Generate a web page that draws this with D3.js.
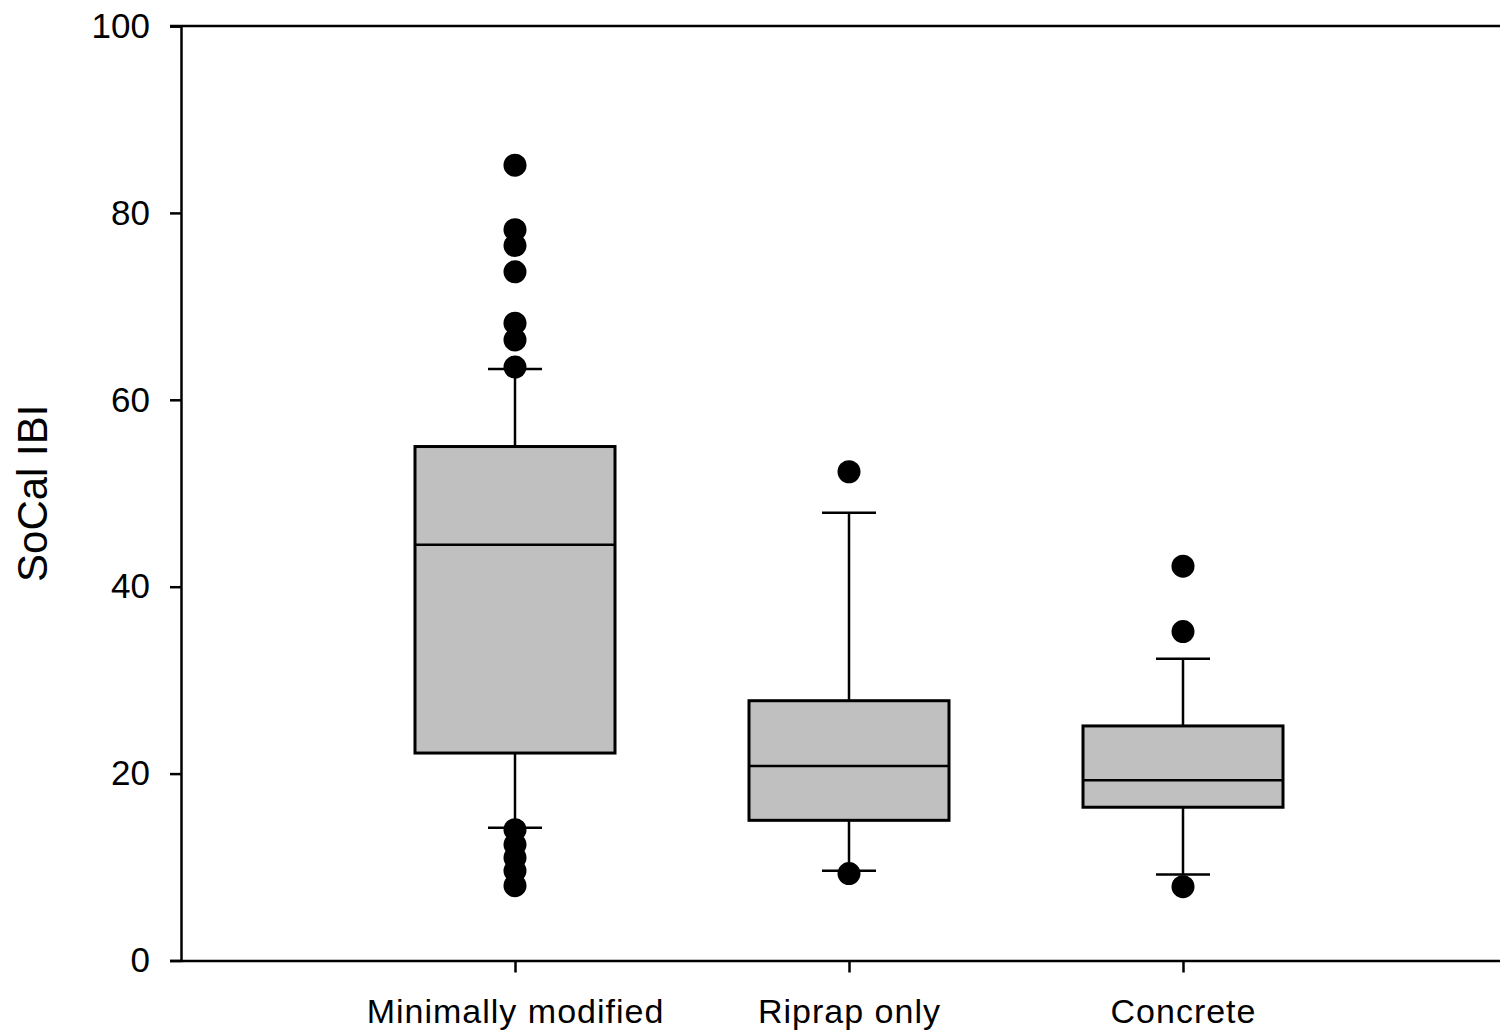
<!DOCTYPE html>
<html>
<head>
<meta charset="utf-8">
<script src="https://cdn.jsdelivr.net/npm/d3@7"></script>
<style>
  html, body { margin: 0; padding: 0; background: #fff; }
  svg { display: block; font-family: "Liberation Sans", Arial, sans-serif; }
</style>
</head>
<body>
<svg id="chart" width="1500" height="1031"></svg>
<script>
  const categories = ["Minimally modified", "Riprap only", "Concrete"];
  const q1 = [22.2, 15.0, 16.4];
  const medians = [44.5, 20.8, 19.3];
  const q3 = [55.0, 27.8, 25.1];
  const whiskerLow = [14.2, 9.6, 9.2];
  const whiskerHigh = [63.3, 47.9, 32.3];
  const outliers = [
    [85.1, 78.2, 76.5, 73.7, 68.2, 66.4, 63.5, 14.0, 12.4, 11.0, 9.6, 8.0],
    [52.3, 9.3],
    [42.2, 35.2, 7.9]
  ];
  const yTicks = [0, 20, 40, 60, 80, 100];

  (function () {
    const svg = d3.select("#chart");
    const plotLeft = 181, plotTop = 26, plotBottom = 960.5, plotRight = 1517;

    const x = d3.scaleLinear().domain([0, categories.length + 1]).range([plotLeft, plotRight]);
    const y = d3.scaleLinear().domain([0, 100]).range([plotBottom, plotTop]);

    const boxHalf = 100;
    const capHalf = 27;

    // top frame line
    svg.append("line").attr("x1", plotLeft - 11).attr("x2", plotRight).attr("y1", plotTop).attr("y2", plotTop)
      .attr("stroke", "#000").attr("stroke-width", 2.5);

    const yAxis = d3.axisLeft(y).tickValues(yTicks).tickSize(11).tickPadding(20);
    const gy = svg.append("g").attr("transform", `translate(${plotLeft},0)`).call(yAxis);
    gy.select(".domain").attr("stroke-width", 2.5);
    gy.selectAll(".tick line").attr("stroke-width", 2.5);
    gy.selectAll(".tick text").attr("font-size", 35).attr("font-family", "Liberation Sans, Arial, sans-serif").attr("fill", "#000");

    const xAxis = d3.axisBottom(x).tickValues(d3.range(1, categories.length + 1))
      .tickFormat((d) => categories[d - 1]).tickSize(12).tickSizeOuter(0).tickPadding(26);
    const gx = svg.append("g").attr("transform", `translate(0,${plotBottom})`).call(xAxis);
    gx.select(".domain").attr("stroke-width", 2.5);
    gx.selectAll(".tick line").attr("stroke-width", 2.5);
    gx.selectAll(".tick text").attr("font-size", 34).attr("letter-spacing", 1)
      .attr("font-family", "Liberation Sans, Arial, sans-serif").attr("fill", "#000");

    svg.append("text")
      .attr("transform", `translate(47,${(plotTop + plotBottom) / 2}) rotate(-90)`)
      .attr("text-anchor", "middle")
      .attr("font-size", 42)
      .text("SoCal IBI");

    categories.forEach((cat, i) => {
      const cx = x(i + 1);
      const g = svg.append("g");
      // whiskers
      g.append("line").attr("x1", cx).attr("x2", cx).attr("y1", y(q3[i])).attr("y2", y(whiskerHigh[i]))
        .attr("stroke", "#000").attr("stroke-width", 2.5);
      g.append("line").attr("x1", cx).attr("x2", cx).attr("y1", y(q1[i])).attr("y2", y(whiskerLow[i]))
        .attr("stroke", "#000").attr("stroke-width", 2.5);
      [whiskerHigh[i], whiskerLow[i]].forEach((v) => {
        g.append("line").attr("x1", cx - capHalf).attr("x2", cx + capHalf).attr("y1", y(v)).attr("y2", y(v))
          .attr("stroke", "#000").attr("stroke-width", 2.5);
      });
      // box
      g.append("rect")
        .attr("x", cx - boxHalf).attr("width", boxHalf * 2)
        .attr("y", y(q3[i])).attr("height", y(q1[i]) - y(q3[i]))
        .attr("fill", "#c0c0c0").attr("stroke", "#000").attr("stroke-width", 3);
      g.append("line").attr("x1", cx - boxHalf).attr("x2", cx + boxHalf)
        .attr("y1", y(medians[i])).attr("y2", y(medians[i]))
        .attr("stroke", "#000").attr("stroke-width", 2.5);
      // outliers
      g.selectAll("circle").data(outliers[i]).join("circle")
        .attr("cx", cx).attr("cy", (d) => y(d)).attr("r", 11.5).attr("fill", "#000");
    });
  })();
</script>
</body>
</html>
